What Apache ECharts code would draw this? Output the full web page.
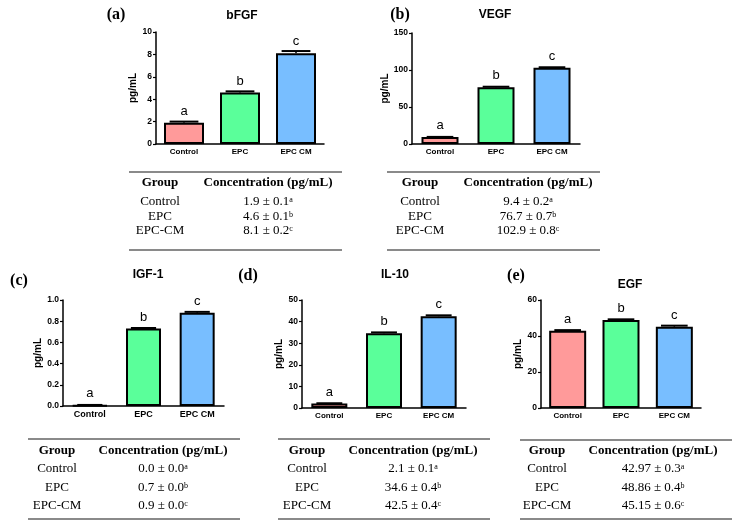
<!DOCTYPE html>
<html>
<head>
<meta charset="utf-8">
<script src="https://cdn.jsdelivr.net/npm/echarts@6/dist/echarts.min.js"></script>
<style>
    html, body { margin: 0; padding: 0; background: #fff; }
    #main { width: 740px; height: 528px; }
</style>
</head>
<body>
<div id="main"></div>
<script>
/*数据start*/
const groups = ['Control', 'EPC', 'EPC CM'];
const tableGroups = ['Control', 'EPC', 'EPC-CM'];
const letters = ['a', 'b', 'c'];
const barColors = ['#FF9A9A', '#5AFF9A', '#78BEFF'];

const bfgfMean = [1.9, 4.6, 8.1];
const bfgfSem = [0.1, 0.1, 0.2];
const vegfMean = [9.4, 76.7, 102.9];
const vegfSem = [0.2, 0.7, 0.8];
const igfMean = [0.006, 0.73, 0.88];
const igfSem = [0.004, 0.006, 0.008];
const il10Mean = [2.1, 34.6, 42.5];
const il10Sem = [0.1, 0.4, 0.4];
const egfMean = [42.97, 48.86, 45.15];
const egfSem = [0.3, 0.4, 0.6];

const bfgfText = ['1.9 ± 0.1', '4.6 ± 0.1', '8.1 ± 0.2'];
const vegfText = ['9.4 ± 0.2', '76.7 ± 0.7', '102.9 ± 0.8'];
const igfText = ['0.0 ± 0.0', '0.7 ± 0.0', '0.9 ± 0.0'];
const il10Text = ['2.1 ± 0.1', '34.6 ± 0.4', '42.5 ± 0.4'];
const egfText = ['42.97 ± 0.3', '48.86 ± 0.4', '45.15 ± 0.6'];
/*数据end*/

const sans = '"Liberation Sans", Arial, sans-serif';
const serif = '"Liberation Serif", "Times New Roman", serif';

// 每个小图的布局
const panels = [
    {tag: '(a)', title: 'bFGF', mean: bfgfMean, sem: bfgfSem, max: 10, step: 2, dec: 0,
        grid: {left: 156, top: 32, width: 168, height: 112}, barW: 40, titleXY: [242, 16], tagXY: [116, 15], catSize: 8},
    {tag: '(b)', title: 'VEGF', mean: vegfMean, sem: vegfSem, max: 150, step: 50, dec: 0,
        grid: {left: 412, top: 33, width: 168, height: 111}, barW: 37, titleXY: [495, 15], tagXY: [400, 15], catSize: 8},
    {tag: '(c)', title: 'IGF-1', mean: igfMean, sem: igfSem, max: 1, step: 0.2, dec: 1,
        grid: {left: 63, top: 300, width: 161, height: 106}, barW: 35, titleXY: [148, 275], tagXY: [19, 281], catSize: 9},
    {tag: '(d)', title: 'IL-10', mean: il10Mean, sem: il10Sem, max: 50, step: 10, dec: 0,
        grid: {left: 302, top: 300, width: 164, height: 108}, barW: 36, titleXY: [395, 275], tagXY: [248, 276], catSize: 8},
    {tag: '(e)', title: 'EGF', mean: egfMean, sem: egfSem, max: 60, step: 20, dec: 0,
        grid: {left: 541, top: 300, width: 160, height: 108}, barW: 37, titleXY: [630, 285], tagXY: [516, 276], catSize: 8}
];

const tables = [
    {rows: bfgfText, x0: 129, x1: 342, gx: 160, cx: 268, top: 172, head: 183, ys: [202, 217, 231], bottom: 250},
    {rows: vegfText, x0: 387, x1: 600, gx: 420, cx: 528, top: 172, head: 183, ys: [202, 217, 231], bottom: 250},
    {rows: igfText, x0: 28, x1: 240, gx: 57, cx: 163, top: 439, head: 451, ys: [469, 488, 506], bottom: 519},
    {rows: il10Text, x0: 278, x1: 490, gx: 307, cx: 413, top: 439, head: 451, ys: [469, 488, 506], bottom: 519},
    {rows: egfText, x0: 520, x1: 732, gx: 547, cx: 653, top: 440, head: 451, ys: [469, 488, 506], bottom: 519}
];

let grids = [], xAxes = [], yAxes = [], series = [], graphics = [];

panels.forEach((p, k) => {
    grids.push(p.grid);
    xAxes.push({
        type: 'category', gridIndex: k, data: groups,
        axisLine: {lineStyle: {color: '#000', width: 1.5}},
        axisTick: {show: false},
        axisLabel: {interval: 0, color: '#000', fontWeight: 'bold', fontFamily: sans, fontSize: p.catSize, margin: 4}
    });
    yAxes.push({
        type: 'value', gridIndex: k, min: 0, max: p.max, interval: p.step,
        name: 'pg/mL', nameLocation: 'middle', nameGap: p.dec ? 16 : 13,
        nameTextStyle: {color: '#000', fontWeight: 'bold', fontFamily: sans, fontSize: 10},
        axisLine: {show: true, lineStyle: {color: '#000', width: 1.5}},
        axisTick: {show: true, length: 3, lineStyle: {color: '#000', width: 1.2}},
        splitLine: {show: false},
        axisLabel: {color: '#000', fontWeight: 'bold', fontFamily: sans, fontSize: 8.5, margin: 4,
            formatter: v => v.toFixed(p.dec)}
    });
    series.push({
        type: 'bar', xAxisIndex: k, yAxisIndex: k, barWidth: p.barW,
        data: p.mean.map((v, i) => ({value: v, itemStyle: {color: barColors[i]}})),
        itemStyle: {borderColor: '#000', borderWidth: 2},
        label: {show: true, position: 'top', distance: 5, color: '#000', fontFamily: sans, fontSize: 13,
            formatter: d => letters[d.dataIndex]},
        animation: false
    });
    // 误差棒
    series.push({
        type: 'custom', xAxisIndex: k, yAxisIndex: k, z: 5,
        data: p.mean.map((v, i) => [i, v, p.sem[i]]),
        encode: {x: 0, y: 1},
        renderItem: function (params, api) {
            let i = api.value(0), v = api.value(1), e = api.value(2);
            let base = api.coord([i, v]), top = api.coord([i, v + e]);
            let half = p.barW * 0.36;
            return {
                type: 'group', children: [
                    {type: 'line', shape: {x1: top[0], y1: base[1], x2: top[0], y2: top[1]}, style: {stroke: '#000', lineWidth: 1.5}},
                    {type: 'line', shape: {x1: top[0] - half, y1: top[1], x2: top[0] + half, y2: top[1]}, style: {stroke: '#000', lineWidth: 2}}
                ]
            };
        },
        animation: false
    });
    graphics.push({type: 'text', x: p.titleXY[0], y: p.titleXY[1],
        style: {text: p.title, align: 'center', verticalAlign: 'middle', font: 'bold 12px ' + sans, fill: '#000'}});
    graphics.push({type: 'text', x: p.tagXY[0], y: p.tagXY[1],
        style: {text: p.tag, align: 'center', verticalAlign: 'middle', font: 'bold 16px ' + serif, fill: '#000'}});
});

// 表格
tables.forEach(t => {
    [t.top, t.bottom].forEach(y => {
        graphics.push({type: 'line', shape: {x1: t.x0, y1: y, x2: t.x1, y2: y}, style: {stroke: '#8a8a8a', lineWidth: 2}});
    });
    graphics.push({type: 'text', x: t.gx, y: t.head,
        style: {text: 'Group', align: 'center', verticalAlign: 'middle', font: 'bold 13px ' + serif, fill: '#000'}});
    graphics.push({type: 'text', x: t.cx, y: t.head,
        style: {text: 'Concentration (pg/mL)', align: 'center', verticalAlign: 'middle', font: 'bold 13px ' + serif, fill: '#000'}});
    t.rows.forEach((r, i) => {
        graphics.push({type: 'text', x: t.gx, y: t.ys[i],
            style: {text: tableGroups[i], align: 'center', verticalAlign: 'middle', font: '13px ' + serif, fill: '#000'}});
        graphics.push({type: 'text', x: t.cx, y: t.ys[i],
            style: {
                text: '{v|' + r + '}{s|' + letters[i] + '}', align: 'center', verticalAlign: 'middle',
                rich: {
                    v: {fontSize: 13, fontFamily: serif, fill: '#000', color: '#000'},
                    s: {fontSize: 8, fontFamily: serif, verticalAlign: 'top', fill: '#000', color: '#000'}
                }
            }});
    });
});

let chart = echarts.init(document.getElementById('main'));
chart.setOption({
    backgroundColor: '#fff',
    animation: false,
    grid: grids,
    xAxis: xAxes,
    yAxis: yAxes,
    series: series,
    graphic: graphics
});
</script>
</body>
</html>
